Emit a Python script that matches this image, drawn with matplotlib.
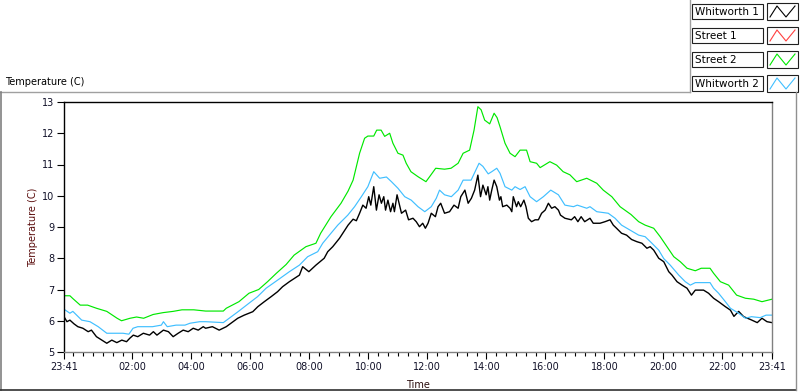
import matplotlib.pyplot as plt
import numpy as np
from matplotlib.patches import Rectangle

# time is hours since 23:41
w1_t = [0, 0.1, 0.2, 0.34, 0.47, 0.64, 0.82, 0.93, 1.1, 1.28,
        1.45, 1.62, 1.79, 1.96, 2.12, 2.23, 2.35, 2.5, 2.69, 2.9,
        3.03, 3.15, 3.37, 3.54, 3.7, 3.87, 4.04, 4.21, 4.38, 4.55,
        4.72, 4.8, 5.03, 5.26, 5.5, 5.66, 5.89, 6.11, 6.4, 6.57,
        6.79, 7.02, 7.24, 7.41, 7.64, 7.98, 8.09, 8.3, 8.54, 8.82,
        8.94, 9.11, 9.34, 9.56, 9.63, 9.8, 9.91, 10.02, 10.13, 10.24,
        10.33, 10.4, 10.5, 10.59, 10.68, 10.76, 10.84, 10.9, 10.98, 11.07,
        11.15, 11.2, 11.29, 11.44, 11.58, 11.68, 11.83, 11.94, 12.05, 12.16,
        12.25, 12.34, 12.45, 12.59, 12.68, 12.77, 12.9, 13.07, 13.22, 13.36,
        13.45, 13.59, 13.7, 13.81, 13.92, 14.03, 14.12, 14.2, 14.31, 14.37,
        14.43, 14.5, 14.58, 14.67, 14.76, 14.81, 14.87, 15.01, 15.12, 15.18,
        15.23, 15.34, 15.4, 15.48, 15.59, 15.66, 15.74, 15.85, 15.97, 16.08,
        16.19, 16.31, 16.42, 16.53, 16.64, 16.76, 16.83, 16.98, 17.2, 17.31,
        17.42, 17.53, 17.65, 17.83, 17.94, 18.17, 18.34, 18.51, 18.62, 18.73,
        18.9, 19.07, 19.24, 19.42, 19.59, 19.76, 19.87, 19.99, 20.16, 20.33,
        20.5, 20.61, 20.78, 20.95, 21.12, 21.27, 21.4, 21.68, 21.85, 22.02,
        22.19, 22.42, 22.59, 22.71, 22.87, 23.04, 23.27, 23.5, 23.66, 23.83,
        24.0]
w1 = [6.13, 5.97, 6.02, 5.9, 5.81, 5.76, 5.65, 5.7, 5.49, 5.38,
      5.28, 5.38, 5.3, 5.38, 5.33, 5.44, 5.54, 5.49, 5.6, 5.54,
      5.65, 5.54, 5.7, 5.65, 5.49, 5.6, 5.7, 5.65, 5.76, 5.7,
      5.81, 5.76, 5.81, 5.7, 5.81, 5.92, 6.08, 6.18, 6.29, 6.45,
      6.61, 6.77, 6.93, 7.09, 7.25, 7.46, 7.73, 7.57, 7.78, 8.0,
      8.21, 8.37, 8.64, 8.96, 9.06, 9.25, 9.2, 9.44, 9.7, 9.6,
      9.97, 9.7, 10.29, 9.54, 10.03, 9.76, 9.97, 9.54, 9.86, 9.49,
      9.76, 9.49, 10.03, 9.44, 9.54, 9.23, 9.28, 9.17, 9.01, 9.12,
      8.96, 9.12, 9.44, 9.33, 9.65, 9.76, 9.44, 9.49, 9.7, 9.6,
      9.97, 10.18, 9.76, 9.92, 10.18, 10.66, 9.97, 10.34, 10.03, 10.29,
      9.86, 10.18, 10.5, 10.29, 9.86, 9.97, 9.65, 9.7, 9.6, 9.49,
      9.97, 9.65, 9.81, 9.65, 9.86, 9.65, 9.28, 9.17, 9.23, 9.23,
      9.44, 9.54, 9.76, 9.6, 9.65, 9.54, 9.38, 9.28, 9.23, 9.33,
      9.17, 9.33, 9.17, 9.28, 9.12, 9.12, 9.17, 9.23, 9.06, 8.96,
      8.8, 8.74, 8.6, 8.53, 8.48, 8.32, 8.37, 8.26, 8.0, 7.89,
      7.57, 7.46, 7.25, 7.14, 7.04, 6.82, 6.98, 6.98, 6.88, 6.72,
      6.61, 6.45, 6.34, 6.14, 6.3, 6.13, 6.04, 5.94, 6.08, 5.97,
      5.94]

s1_t = []
s1 = []

s2_t = [0, 0.2, 0.3, 0.55, 0.8, 1.1, 1.45, 1.8, 1.95, 2.24,
        2.46, 2.7, 3.02, 3.36, 3.7, 4.0, 4.4, 4.8, 5.4, 5.5,
        5.93, 6.27, 6.6, 6.9, 7.2, 7.53, 7.8, 8.2, 8.54, 8.7,
        9.05, 9.39, 9.63, 9.8, 10.02, 10.19, 10.3, 10.5, 10.6, 10.75,
        10.87, 11.04, 11.15, 11.32, 11.49, 11.6, 11.76, 12.0, 12.27, 12.44,
        12.6, 12.9, 13.12, 13.36, 13.53, 13.75, 13.9, 14.03, 14.14, 14.26,
        14.43, 14.58, 14.68, 14.78, 14.95, 15.12, 15.29, 15.46, 15.68, 15.8,
        16.02, 16.14, 16.47, 16.7, 16.92, 17.15, 17.38, 17.72, 18.06, 18.28,
        18.57, 18.85, 19.22, 19.48, 19.7, 19.99, 20.21, 20.44, 20.67, 20.89,
        21.12, 21.4, 21.6, 21.9, 22.02, 22.25, 22.53, 22.8, 23.1, 23.38,
        23.66, 24.0]
s2 = [6.8, 6.8, 6.71, 6.5, 6.5, 6.4, 6.3, 6.08, 6.0, 6.08,
      6.12, 6.08, 6.2, 6.26, 6.3, 6.35, 6.35, 6.31, 6.31, 6.4,
      6.61, 6.88, 7.0, 7.25, 7.52, 7.8, 8.1, 8.37, 8.48, 8.8,
      9.33, 9.76, 10.15, 10.5, 11.36, 11.84, 11.91, 11.91, 12.1, 12.1,
      11.9, 12.0, 11.68, 11.36, 11.3, 11.04, 10.77, 10.61, 10.45, 10.67,
      10.88, 10.85, 10.88, 11.04, 11.36, 11.46, 12.1, 12.85, 12.75, 12.42,
      12.3, 12.64, 12.5, 12.21, 11.68, 11.36, 11.25, 11.46, 11.46, 11.09,
      11.04, 10.9, 11.09, 10.98, 10.77, 10.67, 10.45, 10.56, 10.4, 10.18,
      9.97, 9.65, 9.4, 9.17, 9.06, 8.96, 8.69, 8.37, 8.05, 7.89,
      7.68, 7.6, 7.68, 7.68, 7.52, 7.25, 7.14, 6.82, 6.72, 6.69,
      6.61, 6.69]

w2_t = [0, 0.2, 0.3, 0.6, 0.88, 1.16, 1.45, 2.0, 2.2, 2.34,
        2.5, 3.0, 3.3, 3.37, 3.5, 3.8, 4.1, 4.27, 4.6, 4.8,
        5.4, 5.6, 5.9, 6.27, 6.56, 6.85, 7.24, 7.64, 7.98, 8.26,
        8.6, 8.77, 9.05, 9.28, 9.62, 9.85, 10.08, 10.3, 10.5, 10.7,
        10.93, 11.1, 11.32, 11.55, 11.77, 12.0, 12.23, 12.45, 12.62, 12.73,
        12.9, 13.13, 13.36, 13.53, 13.8, 14.07, 14.2, 14.38, 14.5, 14.67,
        14.78, 14.95, 15.18, 15.29, 15.46, 15.63, 15.8, 16.02, 16.25, 16.5,
        16.76, 16.98, 17.27, 17.4, 17.72, 17.83, 18.06, 18.45, 18.68, 18.9,
        19.19, 19.48, 19.7, 19.93, 20.16, 20.33, 20.55, 20.84, 21.06, 21.23,
        21.4, 21.9, 22.02, 22.19, 22.42, 22.59, 22.87, 23.1, 23.3, 23.6,
        23.8, 24.0]
w2 = [6.37, 6.24, 6.3, 6.02, 5.97, 5.81, 5.6, 5.6, 5.57, 5.76,
      5.81, 5.81, 5.86, 5.97, 5.81, 5.86, 5.86, 5.92, 5.97, 5.97,
      5.94, 6.08, 6.29, 6.56, 6.77, 7.04, 7.3, 7.57, 7.78, 8.05,
      8.21, 8.48, 8.8, 9.06, 9.38, 9.65, 9.97, 10.29, 10.77, 10.56,
      10.6, 10.45, 10.24, 9.97, 9.86, 9.65, 9.49, 9.65, 9.92, 10.18,
      10.03, 9.97, 10.18, 10.5, 10.5, 11.04, 10.94, 10.7, 10.77, 10.88,
      10.72, 10.29, 10.18, 10.29, 10.2, 10.29, 9.97, 9.81, 9.97, 10.18,
      10.03, 9.7, 9.65, 9.7, 9.6, 9.65, 9.49, 9.44, 9.28, 9.06,
      8.9, 8.74, 8.69, 8.48, 8.26, 7.99, 7.78, 7.46, 7.25, 7.14,
      7.22, 7.22, 7.04, 6.88, 6.61, 6.4, 6.24, 6.08, 6.13, 6.1,
      6.18, 6.18]

names = ["Whitworth 1", "Street 1", "Street 2", "Whitworth 2"]
colors = ["#000000", "#ff4040", "#00e800", "#40bfff"]
xlabels = ["23:41", "02:00", "04:00", "06:00", "08:00", "10:00", "12:00",
           "14:00", "16:00", "18:00", "20:00", "22:00", "23:41"]
start = 23 + 41 / 60.0

W, H = 800, 392
fig = plt.figure(figsize=(8, 3.92), dpi=100)
plt.rcParams['font.family'] = 'DejaVu Sans'

# background overlay in pixel coordinates (frame, title, legend)
bg = fig.add_axes([0, 0, 1, 1])
bg.set_xlim(0, W)
bg.set_ylim(H, 0)
bg.axis("off")
gray = "#a0a0a0"
bg.plot([0, 690], [91.5, 91.5], color=gray, lw=1)
bg.plot([690, 690], [0, 91.5], color=gray, lw=1)
bg.plot([1, 1], [91.5, 390], color="#808080", lw=1.2)
bg.plot([0, 796], [390, 390], color="#303030", lw=1.2)
bg.plot([796, 796], [91.5, 390], color="#909090", lw=1)
bg.text(5, 82, "Temperature (C)", fontsize=7, va="center", ha="left")

for i in range(4):
    y0 = 4 + 24 * i
    bg.add_patch(Rectangle((692, y0), 71, 15, fc="white", ec="#202020", lw=0.8))
    bg.text(695, y0 + 7.5, names[i], fontsize=7.5, va="center", ha="left")
    bg.add_patch(Rectangle((767, y0 - 1), 31, 17, fc="white", ec="#202020", lw=0.8))
    bg.plot([770, 777, 786, 795], [y0 + 13, y0 + 2, y0 + 13, y0 + 2],
            color=colors[i], lw=0.8)

# main plot
ax = fig.add_axes([64 / W, 1 - 352 / H, 708 / W, 250 / H])
ax.set_zorder(2)
ax.plot(w1_t, w1, color=colors[0], lw=1.0)
ax.plot(s1_t, s1, color=colors[1], lw=0.8)
ax.plot(s2_t, s2, color=colors[2], lw=0.85)
ax.plot(w2_t, w2, color=colors[3], lw=0.85)

ax.set_xlim(0, 24)
ax.set_ylim(5, 13)
ax.set_yticks(range(5, 14))
ax.set_xticks([0] + [26 + 2 * k - start for k in range(11)] + [24])
ax.set_xticklabels(xlabels)
ax.set_xticks([24 - start + k / 3.0 for k in range(72)], minor=True)

ax.tick_params(axis="both", which="major", length=5, width=0.8, pad=2,
               labelsize=7, colors="black")
ax.tick_params(axis="x", which="minor", length=3, width=0.8)
for lab in ax.get_xticklabels() + ax.get_yticklabels():
    lab.set_color("#101028")

ax.spines["left"].set_color("black")
ax.spines["top"].set_color("black")
ax.spines["right"].set_color("#808080")
ax.spines["bottom"].set_color("#808080")
for s in ax.spines.values():
    s.set_linewidth(1.0)

bg.text(33, 227, "Temperature (C)", fontsize=7, rotation=90, va="center",
        ha="center", color="#5a0c0c")
bg.text(418, 385, "Time", fontsize=7, va="center", ha="center", color="#2a0c0c")

plt.savefig("out.png", dpi=100)
